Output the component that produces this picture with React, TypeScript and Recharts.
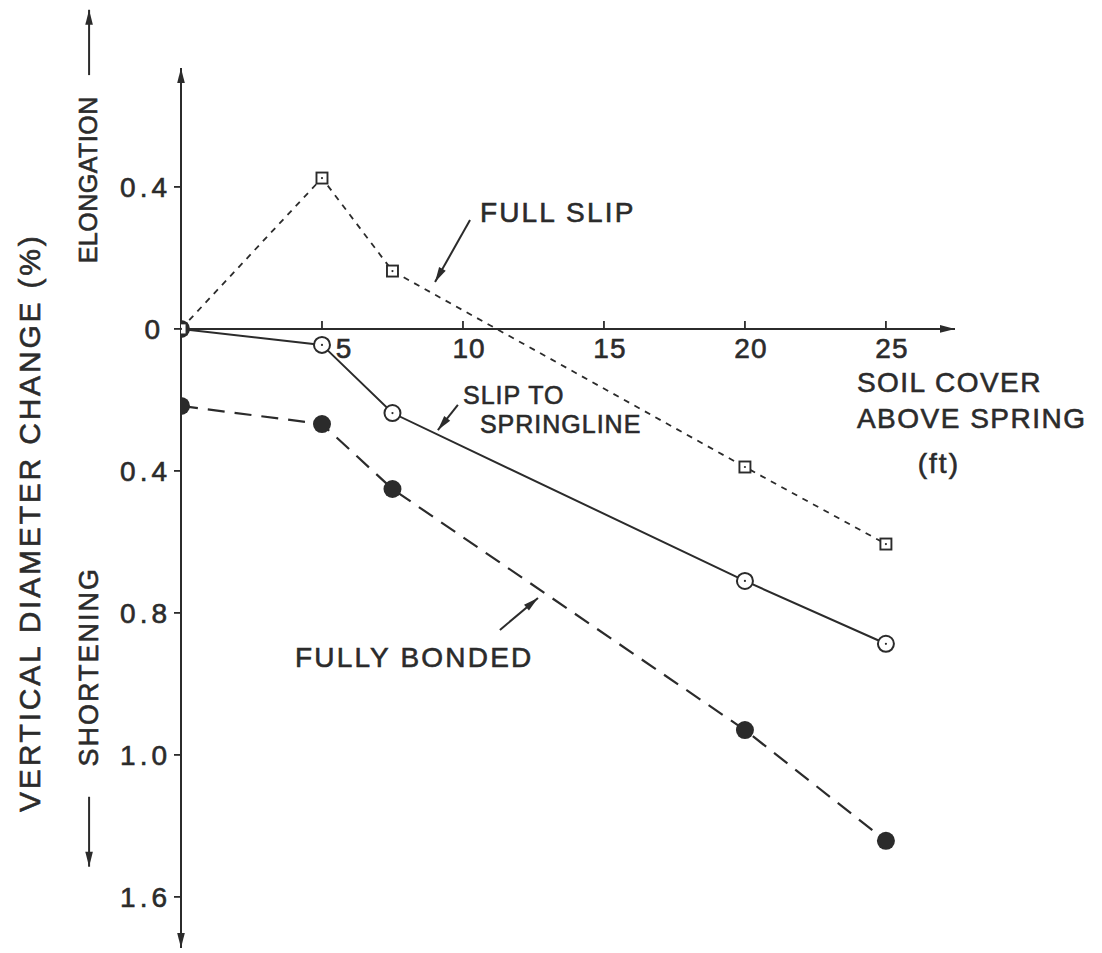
import React from 'react';
import { LineChart, Line, XAxis, YAxis, ReferenceLine, ReferenceDot } from 'recharts';

// ---- data ----
const coverFt = [0, 5, 7.5, 20, 25];
const fullSlip = [0, 0.425, 0.163, -0.389, -0.606];
const slipToSpringline = [0, -0.045, -0.237, -0.71, -0.887];
const fullyBonded = [-0.217, -0.268, -0.451, -1.13, -1.442];

const xTickValues = [5, 10, 15, 20, 25];
const xTickLabels = ['5', '10', '15', '20', '25'];
const yTickValues = [0.4, 0, -0.4, -0.8, -1.2, -1.6];
const yTickLabels = ['0.4', '0', '0.4', '0.8', '1.0', '1.6'];

const X_DOMAIN: [number, number] = [0, 27.45];
const Y_DOMAIN: [number, number] = [-1.744, 0.735];

// annotation texts, anchored in data coordinates
const notes = [
  { x: 10.6, y: 0.301, text: 'FULL SLIP', size: 28, spacing: 2.2 },
  { x: 10.0, y: -0.212, text: 'SLIP TO', size: 25, spacing: 1 },
  { x: 10.6, y: -0.293, text: 'SPRINGLINE', size: 25, spacing: 1 },
  { x: 4.04, y: -0.952, text: 'FULLY BONDED', size: 28, spacing: 2.2 },
  { x: 23.97, y: -0.177, text: 'SOIL COVER', size: 28, spacing: 1.5 },
  { x: 23.97, y: -0.279, text: 'ABOVE SPRING', size: 28, spacing: 1.5 },
  { x: 26.13, y: -0.406, text: '(ft)', size: 28, spacing: 2 },
];
const pointers = [
  { from: { x: 10.25, y: 0.307 }, to: { x: 9.01, y: 0.132 } },
  { from: { x: 9.82, y: -0.214 }, to: { x: 9.11, y: -0.285 } },
  { from: { x: 11.31, y: -0.848 }, to: { x: 12.66, y: -0.758 } },
  { from: { x: -3.26, y: 0.715 }, to: { x: -3.26, y: 0.899 } },
  { from: { x: -3.26, y: -1.318 }, to: { x: -3.26, y: -1.515 } },
];
const sideLabels = [
  { x: -5.39, y: -0.546, text: 'VERTICAL DIAMETER CHANGE (%)', size: 30, spacing: 2.8 },
  { x: -3.3, y: 0.42, text: 'ELONGATION', size: 25, spacing: 0.5 },
  { x: -3.26, y: -0.952, text: 'SHORTENING', size: 27, spacing: 2 },
];

const data = coverFt.map((x, i) => ({
  x,
  fullSlip: fullSlip[i],
  springline: slipToSpringline[i],
  bonded: fullyBonded[i],
}));

const INK = '#2b2b2b';
const FONT = '"Liberation Sans", Arial, sans-serif';
const TEXT_STROKE = 0.6;

function headPath(xt: number, yt: number, xf: number, yf: number, len = 14, half = 4) {
  const a = Math.atan2(yt - yf, xt - xf);
  const bx = xt - len * Math.cos(a);
  const by = yt - len * Math.sin(a);
  const px = -Math.sin(a) * half;
  const py = Math.cos(a) * half;
  return `M${xt},${yt} L${bx + px},${by + py} L${bx - px},${by - py} Z`;
}

const arrowShape = (both: boolean, width: number) => (p: any) => {
  const { x1, y1, x2, y2 } = p;
  return (
    <g>
      <line x1={x1} y1={y1} x2={x2} y2={y2} stroke={INK} strokeWidth={width} />
      <path d={headPath(x2, y2, x1, y1, 15, 3.8)} fill={INK} />
      {both ? <path d={headPath(x1, y1, x2, y2, 15, 3.8)} fill={INK} /> : null}
    </g>
  );
};

const squareDot = (p: any) => {
  const { cx, cy, index } = p;
  return (
    <g key={`sq-${index}`}>
      <rect x={cx - 5.5} y={cy - 5.5} width={11} height={11} fill="#fff" stroke={INK} strokeWidth={1.9} />
      <circle cx={cx} cy={cy} r={1.1} fill={INK} />
    </g>
  );
};

const openDot = (p: any) => {
  const { cx, cy, index } = p;
  return (
    <g key={`oc-${index}`}>
      <circle cx={cx} cy={cy} r={8} fill={index === 0 ? INK : '#fff'} stroke={INK} strokeWidth={2} />
      <circle cx={cx} cy={cy} r={1.1} fill={INK} />
    </g>
  );
};

const filledDot = (p: any) => {
  const { cx, cy, index } = p;
  return <circle key={`fc-${index}`} cx={cx} cy={cy} r={9} fill={INK} />;
};

const YTick = (p: any) => {
  const { x, y, payload } = p;
  const i = yTickValues.indexOf(payload.value);
  const label = i >= 0 ? yTickLabels[i] : '';
  const shift = label === '0' ? -7 : 0;
  return (
    <text
      x={x + 4 + shift}
      y={y}
      dy={10}
      textAnchor="end"
      fontFamily={FONT}
      fontSize={28}
      letterSpacing={4}
      fill={INK}
      stroke={INK}
      strokeWidth={TEXT_STROKE}
    >
      {label}
    </text>
  );
};

export default function App() {
  return (
    <div style={{ position: 'absolute', left: 0, top: 0, width: 1102, height: 953, background: '#fff' }}>
      <LineChart
        width={1102}
        height={953}
        data={data}
        margin={{ top: 68, right: 147, bottom: 5, left: 121 }}
      >
        <XAxis type="number" dataKey="x" domain={X_DOMAIN} hide height={0} allowDataOverflow />
        <YAxis
          type="number"
          domain={Y_DOMAIN}
          ticks={yTickValues}
          width={60}
          axisLine={false}
          tickLine={{ stroke: INK, strokeWidth: 1.8 }}
          tickSize={7}
          tickMargin={7}
          tick={YTick}
          allowDataOverflow
        />

        {/* y axis with arrow heads at both ends */}
        <ReferenceLine
          segment={[{ x: 0, y: Y_DOMAIN[0] }, { x: 0, y: Y_DOMAIN[1] }]}
          ifOverflow="visible"
          shape={arrowShape(true, 2)}
        />
        {/* x axis along zero */}
        <ReferenceLine
          segment={[{ x: 0, y: 0 }, { x: X_DOMAIN[1], y: 0 }]}
          ifOverflow="visible"
          shape={arrowShape(false, 2)}
        />

        {xTickValues.map((v, i) => (
          <ReferenceDot
            key={`xt-${v}`}
            x={v}
            y={0}
            r={0}
            ifOverflow="visible"
            shape={(p: any) => (
              <g>
                <line x1={p.cx} y1={p.cy} x2={p.cx} y2={p.cy - 8} stroke={INK} strokeWidth={1.8} />
                <text
                  x={p.cx + (i === 0 ? 22 : 6)}
                  y={p.cy + 29}
                  textAnchor="middle"
                  fontFamily={FONT}
                  fontSize={28}
                  letterSpacing={1}
                  fill={INK}
                  stroke={INK}
                  strokeWidth={TEXT_STROKE}
                >
                  {xTickLabels[i]}
                </text>
              </g>
            )}
          />
        ))}

        <Line
          dataKey="bonded"
          type="linear"
          stroke={INK}
          strokeWidth={2.2}
          strokeDasharray="17 10"
          dot={filledDot}
          activeDot={false}
          isAnimationActive={false}
        />
        <Line
          dataKey="springline"
          type="linear"
          stroke={INK}
          strokeWidth={2}
          dot={openDot}
          activeDot={false}
          isAnimationActive={false}
        />
        <Line
          dataKey="fullSlip"
          type="linear"
          stroke={INK}
          strokeWidth={1.8}
          strokeDasharray="6 6"
          dot={squareDot}
          activeDot={false}
          isAnimationActive={false}
        />

        {pointers.map((a, i) => (
          <ReferenceLine
            key={`ptr-${i}`}
            segment={[a.from, a.to]}
            ifOverflow="visible"
            shape={arrowShape(false, 2)}
          />
        ))}

        {notes.map((n, i) => (
          <ReferenceDot
            key={`note-${i}`}
            x={n.x}
            y={n.y}
            r={0}
            ifOverflow="visible"
            shape={(p: any) => (
              <text
                x={p.cx}
                y={p.cy}
                textAnchor="start"
                fontFamily={FONT}
                fontSize={n.size}
                letterSpacing={n.spacing}
                fill={INK}
                stroke={INK}
                strokeWidth={TEXT_STROKE}
              >
                {n.text}
              </text>
            )}
          />
        ))}

        {sideLabels.map((s, i) => (
          <ReferenceDot
            key={`side-${i}`}
            x={s.x}
            y={s.y}
            r={0}
            ifOverflow="visible"
            shape={(p: any) => (
              <text
                x={p.cx}
                y={p.cy}
                transform={`rotate(-90, ${p.cx}, ${p.cy})`}
                textAnchor="middle"
                dominantBaseline="central"
                fontFamily={FONT}
                fontSize={s.size}
                letterSpacing={s.spacing}
                fill={INK}
                stroke={INK}
                strokeWidth={TEXT_STROKE}
              >
                {s.text}
              </text>
            )}
          />
        ))}
      </LineChart>
    </div>
  );
}
